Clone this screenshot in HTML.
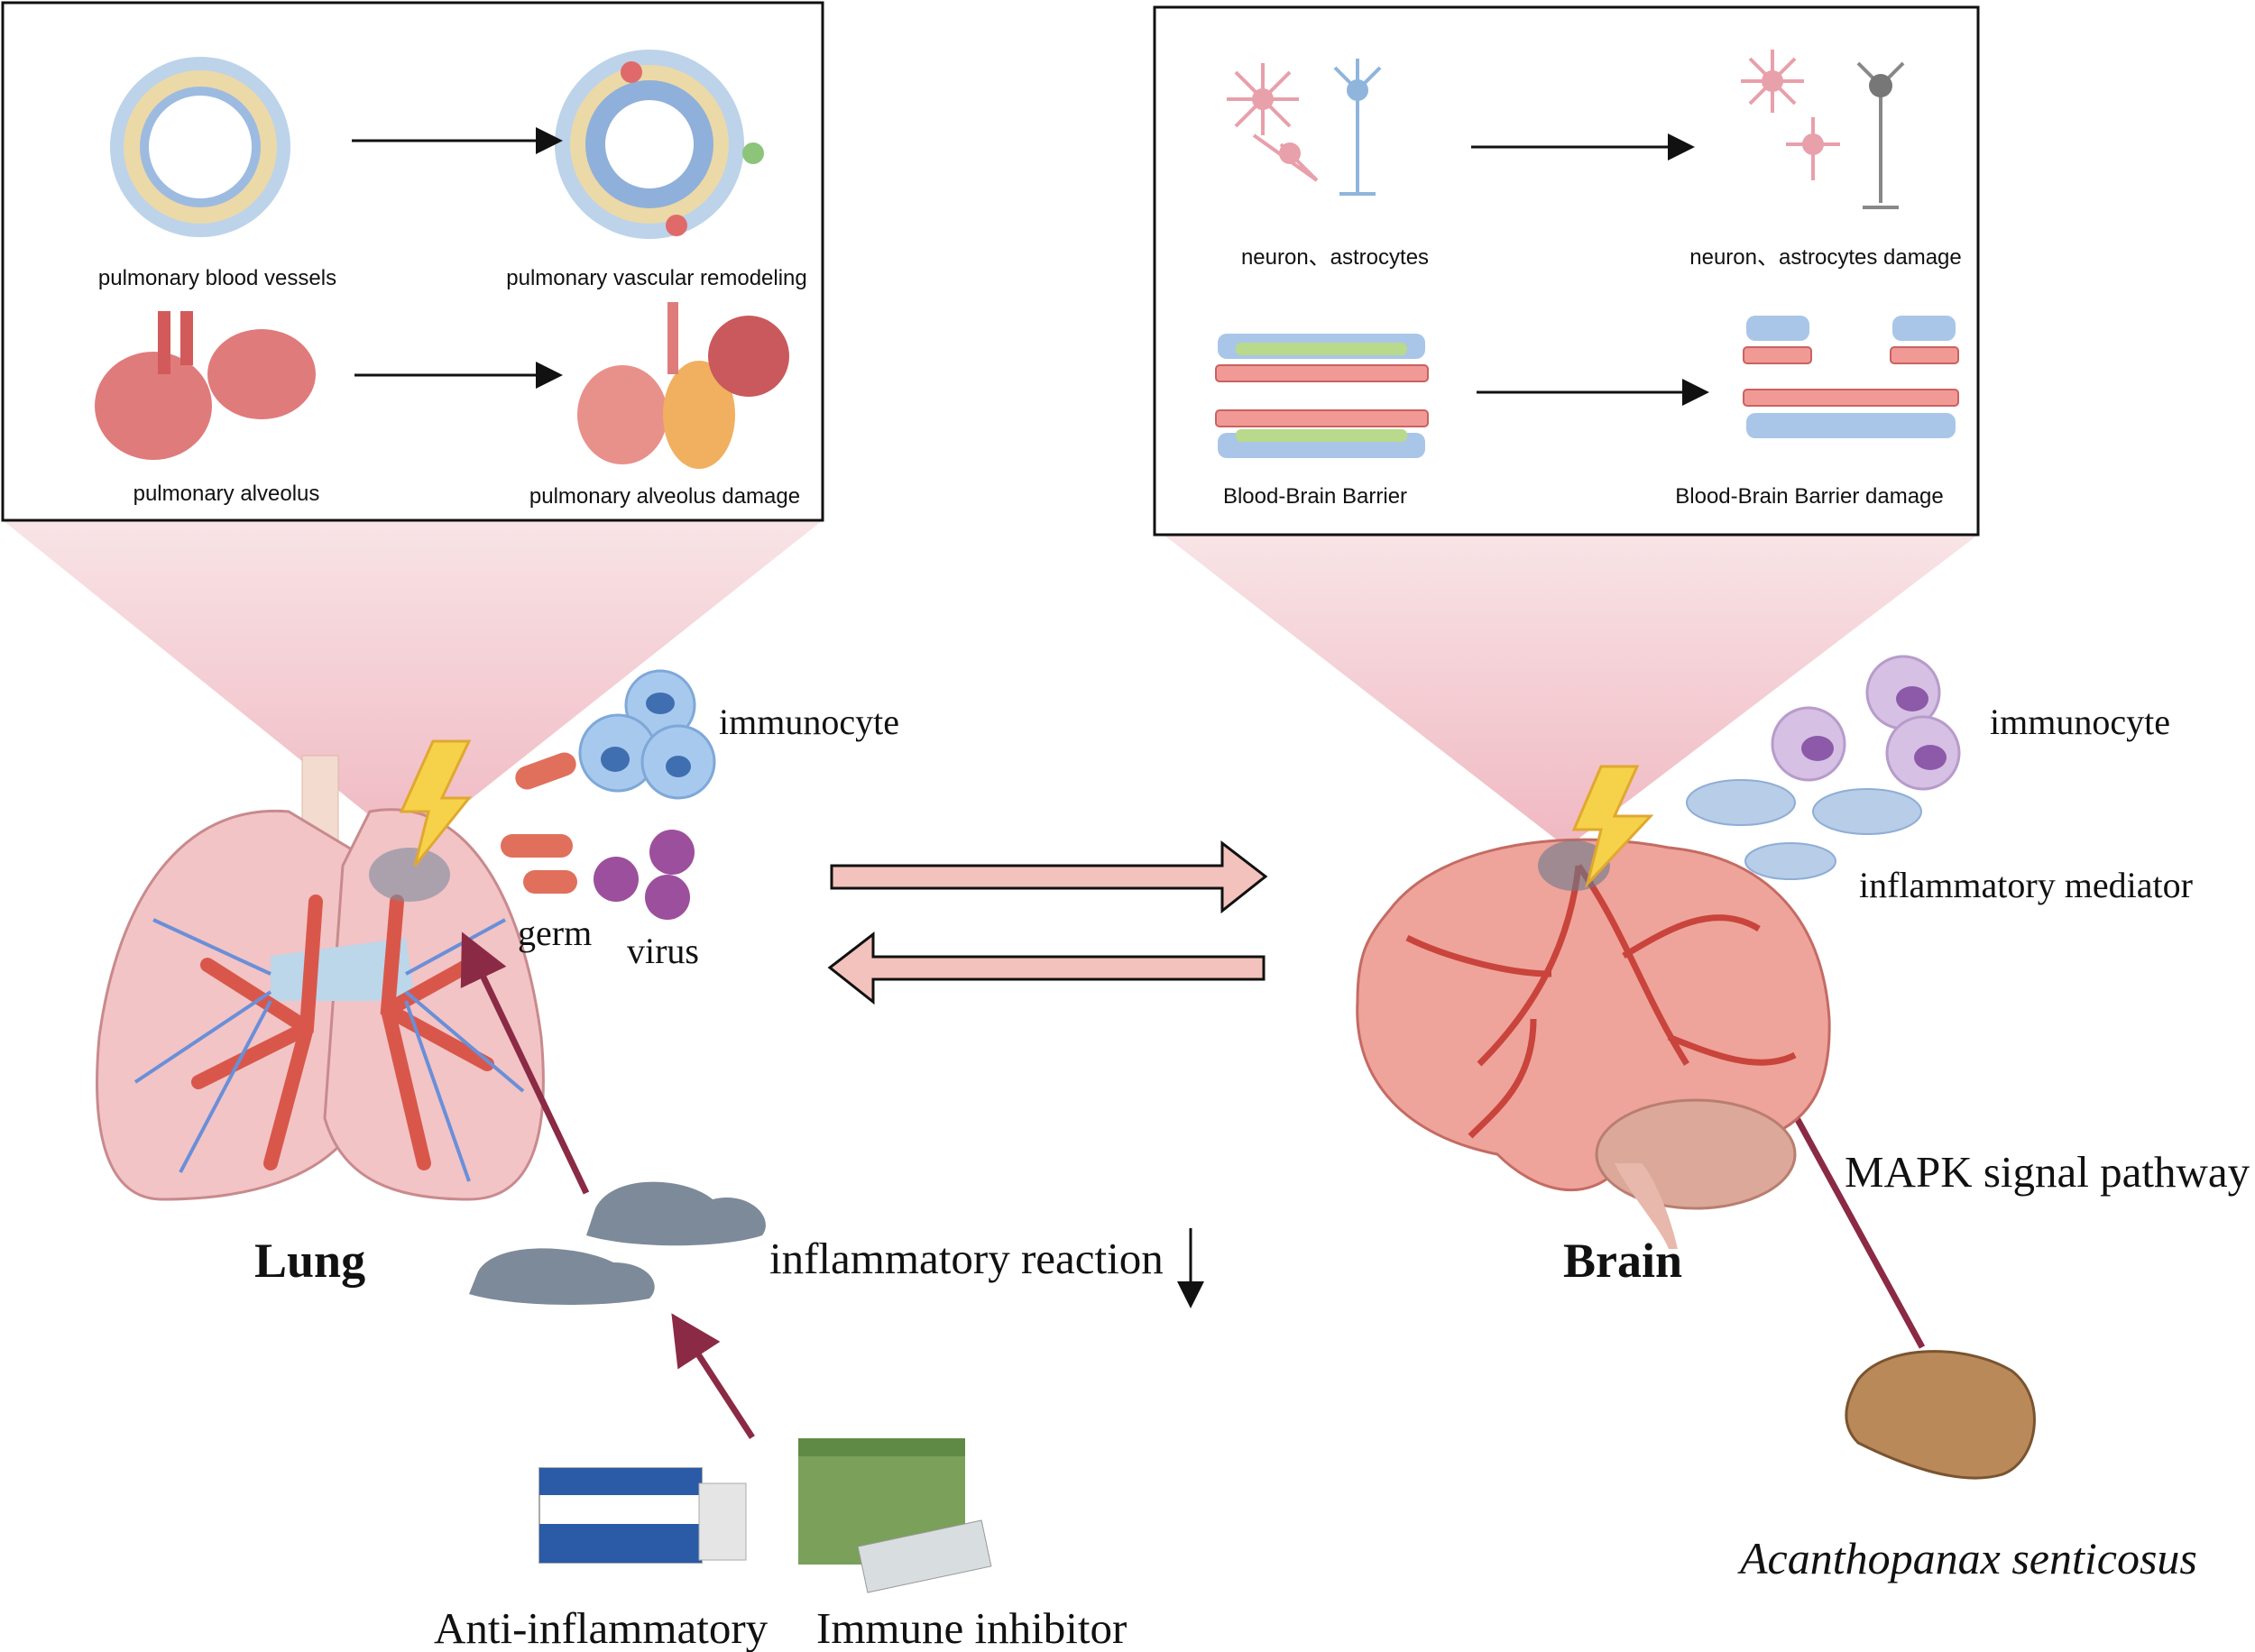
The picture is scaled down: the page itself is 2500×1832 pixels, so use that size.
<!DOCTYPE html>
<html><head><meta charset="utf-8"><style>
html,body{margin:0;padding:0;background:#fff}
svg{display:block}
.s{font-family:"Liberation Sans",sans-serif;font-size:24px;fill:#111}
.t{font-family:"Liberation Serif",serif;font-size:40px;fill:#111}
.b{font-family:"Liberation Serif",serif;font-size:49px;fill:#111}
</style></head><body>
<svg width="2500" height="1832" viewBox="0 0 2500 1832" xmlns="http://www.w3.org/2000/svg">
<defs>
<linearGradient id="pk" x1="0" y1="0" x2="0" y2="1"><stop offset="0" stop-color="#f8e4e6"/><stop offset="1" stop-color="#f0b8c2"/></linearGradient>
<marker id="ah" markerWidth="10" markerHeight="10" refX="8" refY="5" orient="auto"><path d="M0,0 L10,5 L0,10 z" fill="#111"/></marker>
<marker id="rh" markerWidth="8" markerHeight="8" refX="6" refY="4" orient="auto"><path d="M0,0 L8,4 L0,8 z" fill="#8b2a45"/></marker>
</defs>
<polygon points="3,577 912,577 454,940" fill="url(#pk)"/>
<polygon points="1290,593 2193,593 1737,940" fill="url(#pk)"/>
<rect x="3" y="3" width="909" height="574" fill="#fff" stroke="#111" stroke-width="3"/>
<rect x="1280" y="8" width="913" height="585" fill="#fff" stroke="#111" stroke-width="3"/>
<circle cx="222" cy="163" r="100" fill="#bcd3ea"/><circle cx="222" cy="163" r="85" fill="#ecd9a8"/><circle cx="222" cy="163" r="62" fill="#fff" stroke="#9dbbe0" stroke-width="10"/>
<circle cx="720" cy="160" r="105" fill="#bcd3ea"/><circle cx="720" cy="160" r="88" fill="#ecd9a8"/><circle cx="720" cy="160" r="60" fill="#fff" stroke="#8fb0da" stroke-width="22"/>
<circle cx="700" cy="80" r="12" fill="#e06a6a"/><circle cx="835" cy="170" r="12" fill="#8cc47a"/><circle cx="750" cy="250" r="12" fill="#e06a6a"/>
<line x1="390" y1="156" x2="618" y2="156" stroke="#111" stroke-width="3" marker-end="url(#ah)"/>
<line x1="393" y1="416" x2="618" y2="416" stroke="#111" stroke-width="3" marker-end="url(#ah)"/>
<g fill="#e07b7b"><ellipse cx="170" cy="450" rx="65" ry="60"/><ellipse cx="290" cy="415" rx="60" ry="50"/><rect x="175" y="345" width="14" height="70" fill="#d35a5a"/><rect x="200" y="345" width="14" height="60" fill="#d35a5a"/></g>
<g><ellipse cx="690" cy="460" rx="50" ry="55" fill="#e8908a"/><ellipse cx="775" cy="460" rx="40" ry="60" fill="#f0b060"/><ellipse cx="830" cy="395" rx="45" ry="45" fill="#c9595c"/><rect x="740" y="335" width="12" height="80" fill="#e07b7b"/></g>
<text class="s" x="241" y="316" text-anchor="middle">pulmonary blood vessels</text>
<text class="s" x="728" y="316" text-anchor="middle">pulmonary vascular remodeling</text>
<text class="s" x="251" y="555" text-anchor="middle">pulmonary alveolus</text>
<text class="s" x="737" y="558" text-anchor="middle">pulmonary alveolus damage</text>
<g stroke="#e8a0aa" stroke-width="4" fill="none"><path d="M1360,110 L1440,110 M1400,70 L1400,150 M1370,80 L1430,140 M1430,80 L1370,140 M1390,150 L1460,200 M1420,160 L1460,200"/></g>
<circle cx="1400" cy="110" r="12" fill="#e8a0aa"/><circle cx="1430" cy="170" r="12" fill="#e8a0aa"/>
<g stroke="#8fb5dc" stroke-width="4" fill="none"><path d="M1505,100 L1505,215 M1480,75 L1505,100 L1530,75 M1505,65 L1505,100 M1485,215 L1525,215"/></g><circle cx="1505" cy="100" r="12" fill="#8fb5dc"/>
<g stroke="#e8a0aa" stroke-width="4" fill="none"><path d="M1930,90 L2000,90 M1965,55 L1965,125 M1940,65 L1990,115 M1990,65 L1940,115 M1980,160 L2040,160 M2010,130 L2010,200"/></g>
<circle cx="1965" cy="90" r="12" fill="#e8a0aa"/><circle cx="2010" cy="160" r="12" fill="#e8a0aa"/>
<g stroke="#888" stroke-width="4" fill="none"><path d="M2085,95 L2085,225 M2060,70 L2085,95 L2110,70 M2065,230 L2105,230"/></g><circle cx="2085" cy="95" r="13" fill="#777"/>
<line x1="1631" y1="163" x2="1873" y2="163" stroke="#111" stroke-width="3" marker-end="url(#ah)"/>
<line x1="1637" y1="435" x2="1889" y2="435" stroke="#111" stroke-width="3" marker-end="url(#ah)"/>
<g fill="#f19a95" stroke="#c96262" stroke-width="2">
<rect x="1348" y="405" width="235" height="18" rx="4"/><rect x="1348" y="455" width="235" height="18" rx="4"/>
<rect x="1933" y="385" width="75" height="18" rx="4"/><rect x="2096" y="385" width="75" height="18" rx="4"/><rect x="1933" y="432" width="238" height="18" rx="4"/>
</g>
<g fill="#a9c6e8"><rect x="1350" y="370" width="230" height="28" rx="10"/><rect x="1350" y="480" width="230" height="28" rx="10"/><rect x="1936" y="350" width="70" height="28" rx="10"/><rect x="2098" y="350" width="70" height="28" rx="10"/><rect x="1936" y="458" width="232" height="28" rx="10"/></g>
<g fill="#b9d98c"><rect x="1370" y="380" width="190" height="14" rx="6"/><rect x="1370" y="476" width="190" height="14" rx="6"/></g>
<text class="s" x="1480" y="293" text-anchor="middle">neuron、astrocytes</text>
<text class="s" x="2024" y="293" text-anchor="middle">neuron、astrocytes damage</text>
<text class="s" x="1458" y="558" text-anchor="middle">Blood-Brain Barrier</text>
<text class="s" x="2006" y="558" text-anchor="middle">Blood-Brain Barrier damage</text>
<rect x="335" y="838" width="40" height="130" fill="#f3dccf" stroke="#d9b8a8"/>
<path d="M320,900 C200,890 130,1000 110,1150 C100,1260 120,1330 180,1330 C270,1330 360,1310 400,1240 L420,960 Z" fill="#f2c4c6" stroke="#c98a8d" stroke-width="3"/>
<path d="M410,900 C520,880 580,1000 600,1150 C610,1260 590,1330 520,1330 C440,1330 380,1310 360,1240 L380,960 Z" fill="#f2c4c6" stroke="#c98a8d" stroke-width="3"/>
<path d="M300,1060 L450,1040 L460,1110 L300,1110 Z" fill="#bcd6ea"/>
<g stroke="#d9574a" stroke-width="16" fill="none" stroke-linecap="round"><path d="M350,1000 L340,1140 L220,1200 M340,1140 L230,1070 M340,1140 L300,1290 M440,1000 L430,1120 L540,1180 M430,1120 L520,1070 M430,1120 L470,1290"/></g>
<g stroke="#6a8fd8" stroke-width="4" fill="none"><path d="M300,1080 L170,1020 M300,1100 L150,1200 M300,1110 L200,1300 M450,1080 L560,1020 M450,1100 L580,1210 M450,1110 L520,1310"/></g>
<ellipse cx="454" cy="970" rx="45" ry="30" fill="#7b8a9c" opacity="0.6"/>
<polygon points="480,822 520,822 490,885 520,885 460,960 475,900 445,900" fill="#f5d24a" stroke="#e0a830" stroke-width="3"/>
<g fill="#e0705c"><rect x="570" y="842" width="70" height="26" rx="13" transform="rotate(-20 605 855)"/><rect x="555" y="925" width="80" height="26" rx="13"/><rect x="580" y="965" width="60" height="26" rx="13"/></g>
<g fill="#9c4f9c"><circle cx="683" cy="975" r="25"/><circle cx="745" cy="945" r="25"/><circle cx="740" cy="995" r="25"/></g>
<g fill="#a8c9ee" stroke="#7ea8d8" stroke-width="3"><circle cx="732" cy="782" r="38"/><circle cx="685" cy="835" r="42"/><circle cx="752" cy="845" r="40"/></g>
<g fill="#3f6fb0"><ellipse cx="732" cy="780" rx="16" ry="12"/><ellipse cx="682" cy="842" rx="16" ry="14"/><ellipse cx="752" cy="850" rx="14" ry="12"/></g>
<text class="t" x="797" y="814">immunocyte</text>
<text class="t" x="574" y="1048">germ</text>
<text class="t" x="695" y="1068">virus</text>
<path d="M660,1340 C680,1300 760,1305 790,1330 C830,1320 860,1350 845,1370 C800,1385 700,1385 650,1370 Z" fill="#7d8a99"/>
<path d="M530,1410 C550,1375 640,1380 680,1400 C720,1400 735,1425 720,1440 C670,1450 570,1450 520,1435 Z" fill="#7d8a99"/>
<text class="b" x="853" y="1412">inflammatory reaction</text>
<line x1="1320" y1="1362" x2="1320" y2="1445" stroke="#111" stroke-width="3" marker-end="url(#ah)"/>
<text x="282" y="1416" font-family="Liberation Serif,serif" font-weight="bold" font-size="54" fill="#111">Lung</text>
<line x1="650" y1="1323" x2="518" y2="1046" stroke="#8b2a45" stroke-width="7" marker-end="url(#rh)"/>
<line x1="834" y1="1594" x2="752" y2="1468" stroke="#8b2a45" stroke-width="7" marker-end="url(#rh)"/>
<line x1="2131" y1="1494" x2="1886" y2="1046" stroke="#8b2a45" stroke-width="7" marker-end="url(#rh)"/>
<rect x="598" y="1628" width="180" height="105" fill="#fff" stroke="#aaa" stroke-width="2"/>
<rect x="598" y="1628" width="180" height="30" fill="#2b5aa6"/><rect x="598" y="1690" width="180" height="43" fill="#2b5aa6"/>
<rect x="775" y="1645" width="52" height="85" fill="#e5e5e5" stroke="#aaa"/>
<rect x="885" y="1595" width="185" height="140" fill="#7aa05a"/><rect x="885" y="1595" width="185" height="20" fill="#5f8a45"/>
<rect x="955" y="1700" width="140" height="52" fill="#d8dde0" stroke="#999" transform="rotate(-12 1025 1726)"/>
<text class="b" x="481" y="1822">Anti-inflammatory</text>
<text class="b" x="905" y="1822">Immune inhibitor</text>
<polygon points="922,960 1355,960 1355,935 1403,972 1355,1010 1355,985 922,985" fill="#f3c2bc" stroke="#111" stroke-width="3"/>
<polygon points="1401,1061 968,1061 968,1036 920,1073 968,1111 968,1086 1401,1086" fill="#f3c2bc" stroke="#111" stroke-width="3"/>
<path d="M1540,1010 C1600,930 1750,920 1850,940 C1950,950 2020,1010 2028,1130 C2030,1200 2010,1240 1960,1260 C1900,1300 1850,1280 1800,1290 C1760,1340 1700,1320 1660,1280 C1560,1260 1500,1200 1505,1110 C1505,1060 1515,1040 1540,1010 Z" fill="#eea49a" stroke="#c46b64" stroke-width="3"/>
<ellipse cx="1880" cy="1280" rx="110" ry="60" fill="#dca89a" stroke="#b97e70" stroke-width="3"/>
<path d="M1790,1290 C1810,1330 1840,1360 1850,1385 L1860,1385 C1850,1340 1830,1300 1820,1290 Z" fill="#e8b8ac"/>
<g stroke="#c9443c" stroke-width="7" fill="none"><path d="M1750,960 C1740,1050 1700,1120 1640,1180 M1750,960 C1800,1030 1820,1100 1870,1180 M1720,1080 C1670,1080 1600,1060 1560,1040 M1800,1060 C1850,1030 1900,1000 1950,1030 M1700,1130 C1700,1200 1660,1230 1630,1260 M1850,1150 C1900,1170 1950,1190 1990,1170"/></g>
<ellipse cx="1745" cy="960" rx="40" ry="28" fill="#6d7a8c" opacity="0.6"/>
<polygon points="1775,850 1815,850 1790,905 1830,905 1760,980 1775,920 1745,920" fill="#f5d24a" stroke="#e0a830" stroke-width="3"/>
<g fill="#d6c0e4" stroke="#b79ccb" stroke-width="3"><circle cx="2005" cy="825" r="40"/><circle cx="2110" cy="768" r="40"/><circle cx="2132" cy="835" r="40"/></g>
<g fill="#8c5aa8"><ellipse cx="2015" cy="830" rx="18" ry="14"/><ellipse cx="2120" cy="775" rx="18" ry="14"/><ellipse cx="2140" cy="840" rx="18" ry="14"/></g>
<g fill="#b7cde8" stroke="#8fadd6" stroke-width="2"><ellipse cx="1930" cy="890" rx="60" ry="25"/><ellipse cx="2070" cy="900" rx="60" ry="25"/><ellipse cx="1985" cy="955" rx="50" ry="20"/></g>
<text class="t" x="2206" y="814">immunocyte</text>
<text class="t" x="2061" y="995">inflammatory mediator</text>
<text class="b" x="2045" y="1316">MAPK signal pathway</text>
<text x="1733" y="1416" font-family="Liberation Serif,serif" font-weight="bold" font-size="54" fill="#111">Brain</text>
<path d="M2060,1530 C2090,1490 2180,1490 2230,1520 C2270,1550 2260,1620 2220,1635 C2170,1650 2100,1620 2060,1600 C2040,1580 2045,1555 2060,1530 Z" fill="#b9895a" stroke="#7a5430" stroke-width="3"/>
<text x="1929" y="1745" font-family="Liberation Serif,serif" font-style="italic" font-size="50" fill="#111">Acanthopanax senticosus</text>
</svg>
</body></html>
